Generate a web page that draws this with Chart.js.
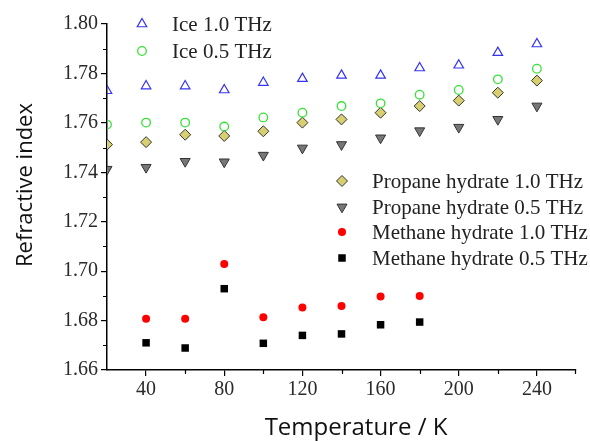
<!DOCTYPE html>
<html>
<head>
<meta charset="utf-8">
<script src="https://cdn.jsdelivr.net/npm/chart.js@4/dist/chart.umd.min.js"></script>
<style>
  html, body { margin: 0; padding: 0; background: #fff; }
</style>
</head>
<body>
<canvas id="chart" width="590" height="441"></canvas>
<script>
// temperatures (K)
const temps = [20, 40, 60, 80, 100, 120, 140, 160, 180, 200, 220, 240];
const methaneTemps = [40, 60, 80, 100, 120, 140, 160, 180];

// refractive index values
const ice10 = [1.7730, 1.7749, 1.7749, 1.7733, 1.7763, 1.7779, 1.7792, 1.7792, 1.7822, 1.7833, 1.7884, 1.7919];
const ice05 = [1.7593, 1.7601, 1.7601, 1.7585, 1.7622, 1.7641, 1.7668, 1.7679, 1.7714, 1.7733, 1.7776, 1.7819];
const propane10 = [1.7512, 1.7522, 1.7552, 1.7547, 1.7566, 1.7601, 1.7614, 1.7641, 1.7668, 1.7690, 1.7722, 1.7771];
const propane05 = [1.7412, 1.7420, 1.7444, 1.7442, 1.7469, 1.7498, 1.7512, 1.7539, 1.7568, 1.7582, 1.7614, 1.7668];
const methane10 = [1.6807, 1.6807, 1.7029, 1.6813, 1.6853, 1.6859, 1.6897, 1.6899];
const methane05 = [1.6710, 1.6689, 1.6929, 1.6708, 1.6740, 1.6746, 1.6783, 1.6794];

// axis ticks and titles
const xTicks = [40, 80, 120, 160, 200, 240];
const yTicks = [1.66, 1.68, 1.70, 1.72, 1.74, 1.76, 1.78, 1.80];
const xTitle = 'Temperature / K';
const yTitle = 'Refractive index';

const pts = (xs, ys) => xs.map((x, i) => ({ x: x, y: ys[i] }));

const datasets = [
    { label: 'Ice 1.0 THz', data: pts(temps, ice10), pointStyle: 'triangle', pointRadius: 5.5,
      pointBorderColor: '#3434f0', pointBackgroundColor: 'rgba(0,0,0,0)', pointBorderWidth: 1.2 },
    { label: 'Ice 0.5 THz', data: pts(temps, ice05), pointStyle: 'circle', pointRadius: 4.3,
      pointBorderColor: '#38e038', pointBackgroundColor: 'rgba(0,0,0,0)', pointBorderWidth: 1.3 },
    { label: 'Propane hydrate 1.0 THz', data: pts(temps, propane10), pointStyle: 'rectRot', pointRadius: 5.5,
      pointBorderColor: '#333', pointBackgroundColor: '#d8d070', pointBorderWidth: 1 },
    { label: 'Propane hydrate 0.5 THz', data: pts(temps, propane05), pointStyle: 'triangle', pointRotation: 180, pointRadius: 5.8,
      pointBorderColor: '#333', pointBackgroundColor: '#777', pointBorderWidth: 1 },
    { label: 'Methane hydrate 1.0 THz', data: pts(methaneTemps, methane10), pointStyle: 'circle', pointRadius: 4,
      pointBorderColor: '#ff0000', pointBackgroundColor: '#ff0000', pointBorderWidth: 0 },
    { label: 'Methane hydrate 0.5 THz', data: pts(methaneTemps, methane05), pointStyle: 'rect', pointRadius: 5.3,
      pointBorderColor: '#000', pointBackgroundColor: '#000', pointBorderWidth: 0 }
];
datasets.forEach(d => { d.showLine = false; d.clip = 0; });

// legend is split in two blocks in the original figure
const legendSpots = [
    [142, 24], [142, 51],
    [342, 181], [342, 207], [342, 232], [342, 258]
];

const splitLegend = {
    id: 'splitLegend',
    afterDraw(chart) {
        const ctx = chart.ctx;
        ctx.save();
        chart.data.datasets.forEach((d, i) => {
            const [x, y] = legendSpots[i];
            ctx.fillStyle = d.pointBackgroundColor;
            ctx.strokeStyle = d.pointBorderColor;
            ctx.lineWidth = d.pointBorderWidth;
            Chart.helpers.drawPoint(ctx, {
                pointStyle: d.pointStyle,
                rotation: d.pointRotation || 0,
                radius: d.pointRadius,
                borderWidth: d.pointBorderWidth
            }, x, y);
            ctx.fillStyle = '#222';
            ctx.font = '21px "Liberation Serif"';
            ctx.textBaseline = 'middle';
            ctx.textAlign = 'left';
            ctx.fillText(d.label, x + 30, y + 1);
        });
        ctx.restore();
    }
};

// axis titles, placed like the original (not centred on the plot area)
const axisTitles = {
    id: 'axisTitles',
    afterDraw(chart) {
        const ctx = chart.ctx;
        ctx.save();
        ctx.fillStyle = '#111';
        ctx.textAlign = 'center';
        ctx.textBaseline = 'alphabetic';
        ctx.font = '24px "Open Sans"';
        ctx.fillText(xTitle, 356, 435);
        ctx.translate(32, 185);
        ctx.rotate(-Math.PI / 2);
        ctx.font = '22px "Open Sans"';
        ctx.fillText(yTitle, 0, 0);
        ctx.restore();
    }
};

// short minor ticks halfway between the labelled ones
const minorTicks = {
    id: 'minorTicks',
    afterDraw(chart) {
        const ctx = chart.ctx;
        const xs = chart.scales.x, ys = chart.scales.y;
        ctx.save();
        ctx.strokeStyle = '#000';
        ctx.lineWidth = 1.2;
        ctx.beginPath();
        for (let i = 0; i < xTicks.length - 1; i++) {
            const px = Math.round(xs.getPixelForValue((xTicks[i] + xTicks[i + 1]) / 2)) + 0.5;
            ctx.moveTo(px, ys.bottom);
            ctx.lineTo(px, ys.bottom + 4);
        }
        const pxEnd = Math.round(xs.getPixelForValue(xs.max)) - 0.5;
        ctx.moveTo(pxEnd, ys.bottom);
        ctx.lineTo(pxEnd, ys.bottom + 4);
        for (let i = 0; i < yTicks.length - 1; i++) {
            const py = Math.round(ys.getPixelForValue((yTicks[i] + yTicks[i + 1]) / 2)) + 0.5;
            ctx.moveTo(xs.left, py);
            ctx.lineTo(xs.left - 4, py);
        }
        ctx.stroke();
        ctx.restore();
    }
};

const tickFont = { family: 'Liberation Serif', size: 20 };

new Chart(document.getElementById('chart'), {
    type: 'scatter',
    data: { datasets: datasets },
    options: {
        responsive: false,
        animation: false,
        layout: { padding: { left: 0, right: 14, top: 24, bottom: 0 } },
        plugins: { legend: { display: false }, tooltip: { enabled: false } },
        scales: {
            x: {
                type: 'linear', min: 20, max: 260,
                afterBuildTicks: s => { s.ticks = xTicks.map(v => ({ value: v })); },
                afterFit: s => { s.height = 71; },
                grid: { drawOnChartArea: false, tickLength: 6, color: '#000', lineWidth: 1.2 },
                border: { color: '#000', width: 1.5 },
                ticks: { color: '#2a2a2a', font: tickFont, padding: 2, maxRotation: 0, autoSkip: false }
            },
            y: {
                type: 'linear', min: 1.66, max: 1.80,
                afterBuildTicks: s => { s.ticks = yTicks.map(v => ({ value: v })); },
                afterFit: s => { s.width = 107; },
                grid: { drawOnChartArea: false, tickLength: 6, color: '#000', lineWidth: 1.2 },
                border: { color: '#000', width: 1.5 },
                ticks: { color: '#2a2a2a', font: tickFont, padding: 3, callback: v => v.toFixed(2) }
            }
        }
    },
    plugins: [splitLegend, axisTitles, minorTicks]
});
</script>
</body>
</html>
